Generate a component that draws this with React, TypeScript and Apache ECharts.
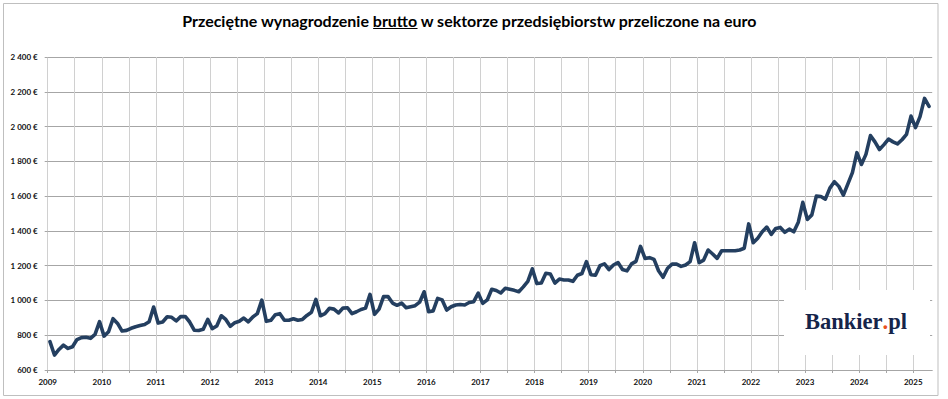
import React, { useEffect, useRef } from "react";
import * as echarts from "echarts";

const TITLE = "Przeciętne wynagrodzenie brutto w sektorze przedsiębiorstw przeliczone na euro";
const TITLE_PRE = "Przeciętne wynagrodzenie ";
const TITLE_UNDER = "brutto";

const years = [2009, 2010, 2011, 2012, 2013, 2014, 2015, 2016, 2017, 2018, 2019, 2020, 2021, 2022, 2023, 2024, 2025];

const y2009 = [763, 686, 718, 743, 724, 734, 775, 786, 788, 782, 805, 878];
const y2010 = [795, 820, 895, 868, 824, 828, 840, 849, 856, 862, 878, 962];
const y2011 = [870, 876, 906, 903, 882, 907, 908, 876, 829, 827, 834, 891];
const y2012 = [838, 853, 912, 891, 851, 872, 880, 899, 877, 905, 924, 1002];
const y2013 = [880, 886, 918, 924, 886, 886, 895, 886, 891, 914, 932, 1006];
const y2014 = [912, 924, 955, 950, 928, 956, 958, 924, 935, 948, 956, 1035];
const y2015 = [920, 950, 1022, 1022, 985, 972, 985, 958, 964, 970, 990, 1050];
const y2016 = [935, 940, 1012, 1003, 945, 964, 974, 977, 974, 988, 993, 1042];
const y2017 = [983, 1003, 1064, 1057, 1043, 1070, 1064, 1058, 1050, 1078, 1110, 1182];
const y2018 = [1097, 1100, 1156, 1152, 1100, 1123, 1118, 1118, 1110, 1145, 1155, 1223];
const y2019 = [1148, 1145, 1200, 1210, 1178, 1204, 1218, 1178, 1170, 1210, 1225, 1311];
const y2020 = [1242, 1246, 1236, 1171, 1133, 1185, 1209, 1209, 1196, 1204, 1223, 1332];
const y2021 = [1217, 1232, 1290, 1267, 1242, 1286, 1286, 1286, 1286, 1290, 1300, 1440];
const y2022 = [1332, 1358, 1395, 1422, 1380, 1414, 1420, 1392, 1410, 1395, 1450, 1564];
const y2023 = [1466, 1492, 1600, 1598, 1583, 1646, 1683, 1656, 1606, 1670, 1735, 1850];
const y2024 = [1782, 1840, 1948, 1912, 1868, 1896, 1928, 1912, 1900, 1924, 1955, 2060];
const y2025 = [1994, 2057, 2162, 2116];

const valuesByYear = [y2009, y2010, y2011, y2012, y2013, y2014, y2015, y2016, y2017, y2018, y2019, y2020, y2021, y2022, y2023, y2024, y2025];

const yMin = 600;
const yMax = 2400;
const yStep = 200;

function measure(text: string, font: string): number {
  const ctx = document.createElement("canvas").getContext("2d");
  if (!ctx) return text.length * 7;
  ctx.font = font;
  return ctx.measureText(text).width;
}

function fmtEuro(v: number): string {
  if (v >= 1000) {
    const th = Math.floor(v / 1000);
    const rest = String(v % 1000).padStart(3, "0");
    return `${th} ${rest} €`;
  }
  return `${v} €`;
}

export default function App() {
  const ref = useRef<HTMLDivElement>(null);

  useEffect(() => {
    if (!ref.current) return;
    const chart = echarts.init(ref.current, null, { renderer: "svg" });

    const points: [number, number][] = [];
    valuesByYear.forEach((arr, yi) => {
      arr.forEach((v, m) => {
        points.push([years[yi] + (m + 0.5) / 12, v]);
      });
    });

    const tFam = "Lato";
    const w16 = measure(TITLE, `bold 16px ${tFam}`);
    const titleSize = (16 * 576) / w16;
    const tFont = `bold ${titleSize}px ${tFam}`;
    const titleW = measure(TITLE, tFont);
    const titleLeft = 470 - titleW / 2;
    const preW = measure(TITLE_PRE, tFont);
    const undW = measure(TITLE_UNDER, tFont);

    const lFam = '"Liberation Serif"';
    const l20 = measure("Bankier.pl", `bold 20px ${lFam}`);
    const logoSize = (20 * 100) / l20;

    const option: any = {
      animation: false,
      backgroundColor: "#ffffff",
      grid: { left: 47.7, right: 15.8, top: 57, bottom: 29, containLabel: false },
      xAxis: {
        type: "value",
        min: years[0],
        max: 2025.35,
        interval: 0.5,
        axisLine: { show: true, lineStyle: { color: "#a6a6a6", width: 1 } },
        axisTick: { show: true, length: 3, lineStyle: { color: "#a6a6a6" } },
        axisLabel: {
          margin: 8,
          fontSize: 8,
          fontWeight: "bold",
          fontFamily: "Lato",
          color: "#111111",
          showMaxLabel: false,
          formatter: (v: number) => (Math.abs(v - Math.round(v)) < 1e-6 ? String(Math.round(v)) : ""),
        },
        splitLine: { show: true, showMaxLine: false, lineStyle: { color: "#d0d0d0", width: 1 } },
      },
      yAxis: {
        type: "value",
        min: yMin,
        max: yMax,
        interval: yStep,
        axisLine: { show: false },
        axisTick: { show: true, length: 3, lineStyle: { color: "#a6a6a6" } },
        axisLabel: {
          margin: 10,
          fontSize: 8,
          fontWeight: "bold",
          fontFamily: "Lato",
          color: "#111111",
          formatter: (v: number) => fmtEuro(v),
        },
        splitLine: { show: true, lineStyle: { color: "#a6a6a6", width: 1 } },
      },
      series: [
        {
          type: "line",
          data: points,
          symbol: "none",
          z: 3,
          lineStyle: { color: "#243f60", width: 3.6, join: "round", cap: "round" },
        },
      ],
      graphic: [
        {
          type: "rect",
          z: 0,
          silent: true,
          shape: { x: 3.5, y: 3.5, width: 934.5, height: 392 },
          style: { fill: "none", stroke: "#bfbfbf", lineWidth: 1 },
        },
        {
          type: "text",
          z: 10,
          x: titleLeft,
          y: 20,
          style: {
            text: TITLE,
            fontSize: titleSize,
            fontWeight: "bold",
            fontFamily: tFam,
            fill: "#000000",
            textAlign: "left",
            textVerticalAlign: "middle",
            align: "left",
            verticalAlign: "middle",
          },
        },
        {
          type: "line",
          z: 10,
          silent: true,
          shape: { x1: titleLeft + preW, y1: 28.5, x2: titleLeft + preW + undW, y2: 28.5 },
          style: { stroke: "#000000", lineWidth: 1 },
        },
        {
          type: "rect",
          z: 10,
          silent: true,
          shape: { x: 784, y: 290, width: 146, height: 65 },
          style: { fill: "#ffffff", stroke: "none" },
        },
        {
          type: "text",
          z: 11,
          x: 856,
          y: 321,
          style: {
            text: "{a|Bankier}{b|.}{a|pl}",
            textAlign: "center",
            textVerticalAlign: "middle",
            align: "center",
            verticalAlign: "middle",
            rich: {
              a: { fontSize: logoSize, fontWeight: "bold", fontFamily: "Liberation Serif", fill: "#15244a", color: "#15244a" },
              b: { fontSize: logoSize, fontWeight: "bold", fontFamily: "Liberation Serif", fill: "#e8501e", color: "#e8501e" },
            },
          },
        },
      ],
    };

    chart.setOption(option);
    return () => {
      chart.dispose();
    };
  }, []);

  return (
    <div
      ref={ref}
      style={{ position: "fixed", left: 0, top: 0, width: 948, height: 399, background: "#ffffff" }}
    />
  );
}
